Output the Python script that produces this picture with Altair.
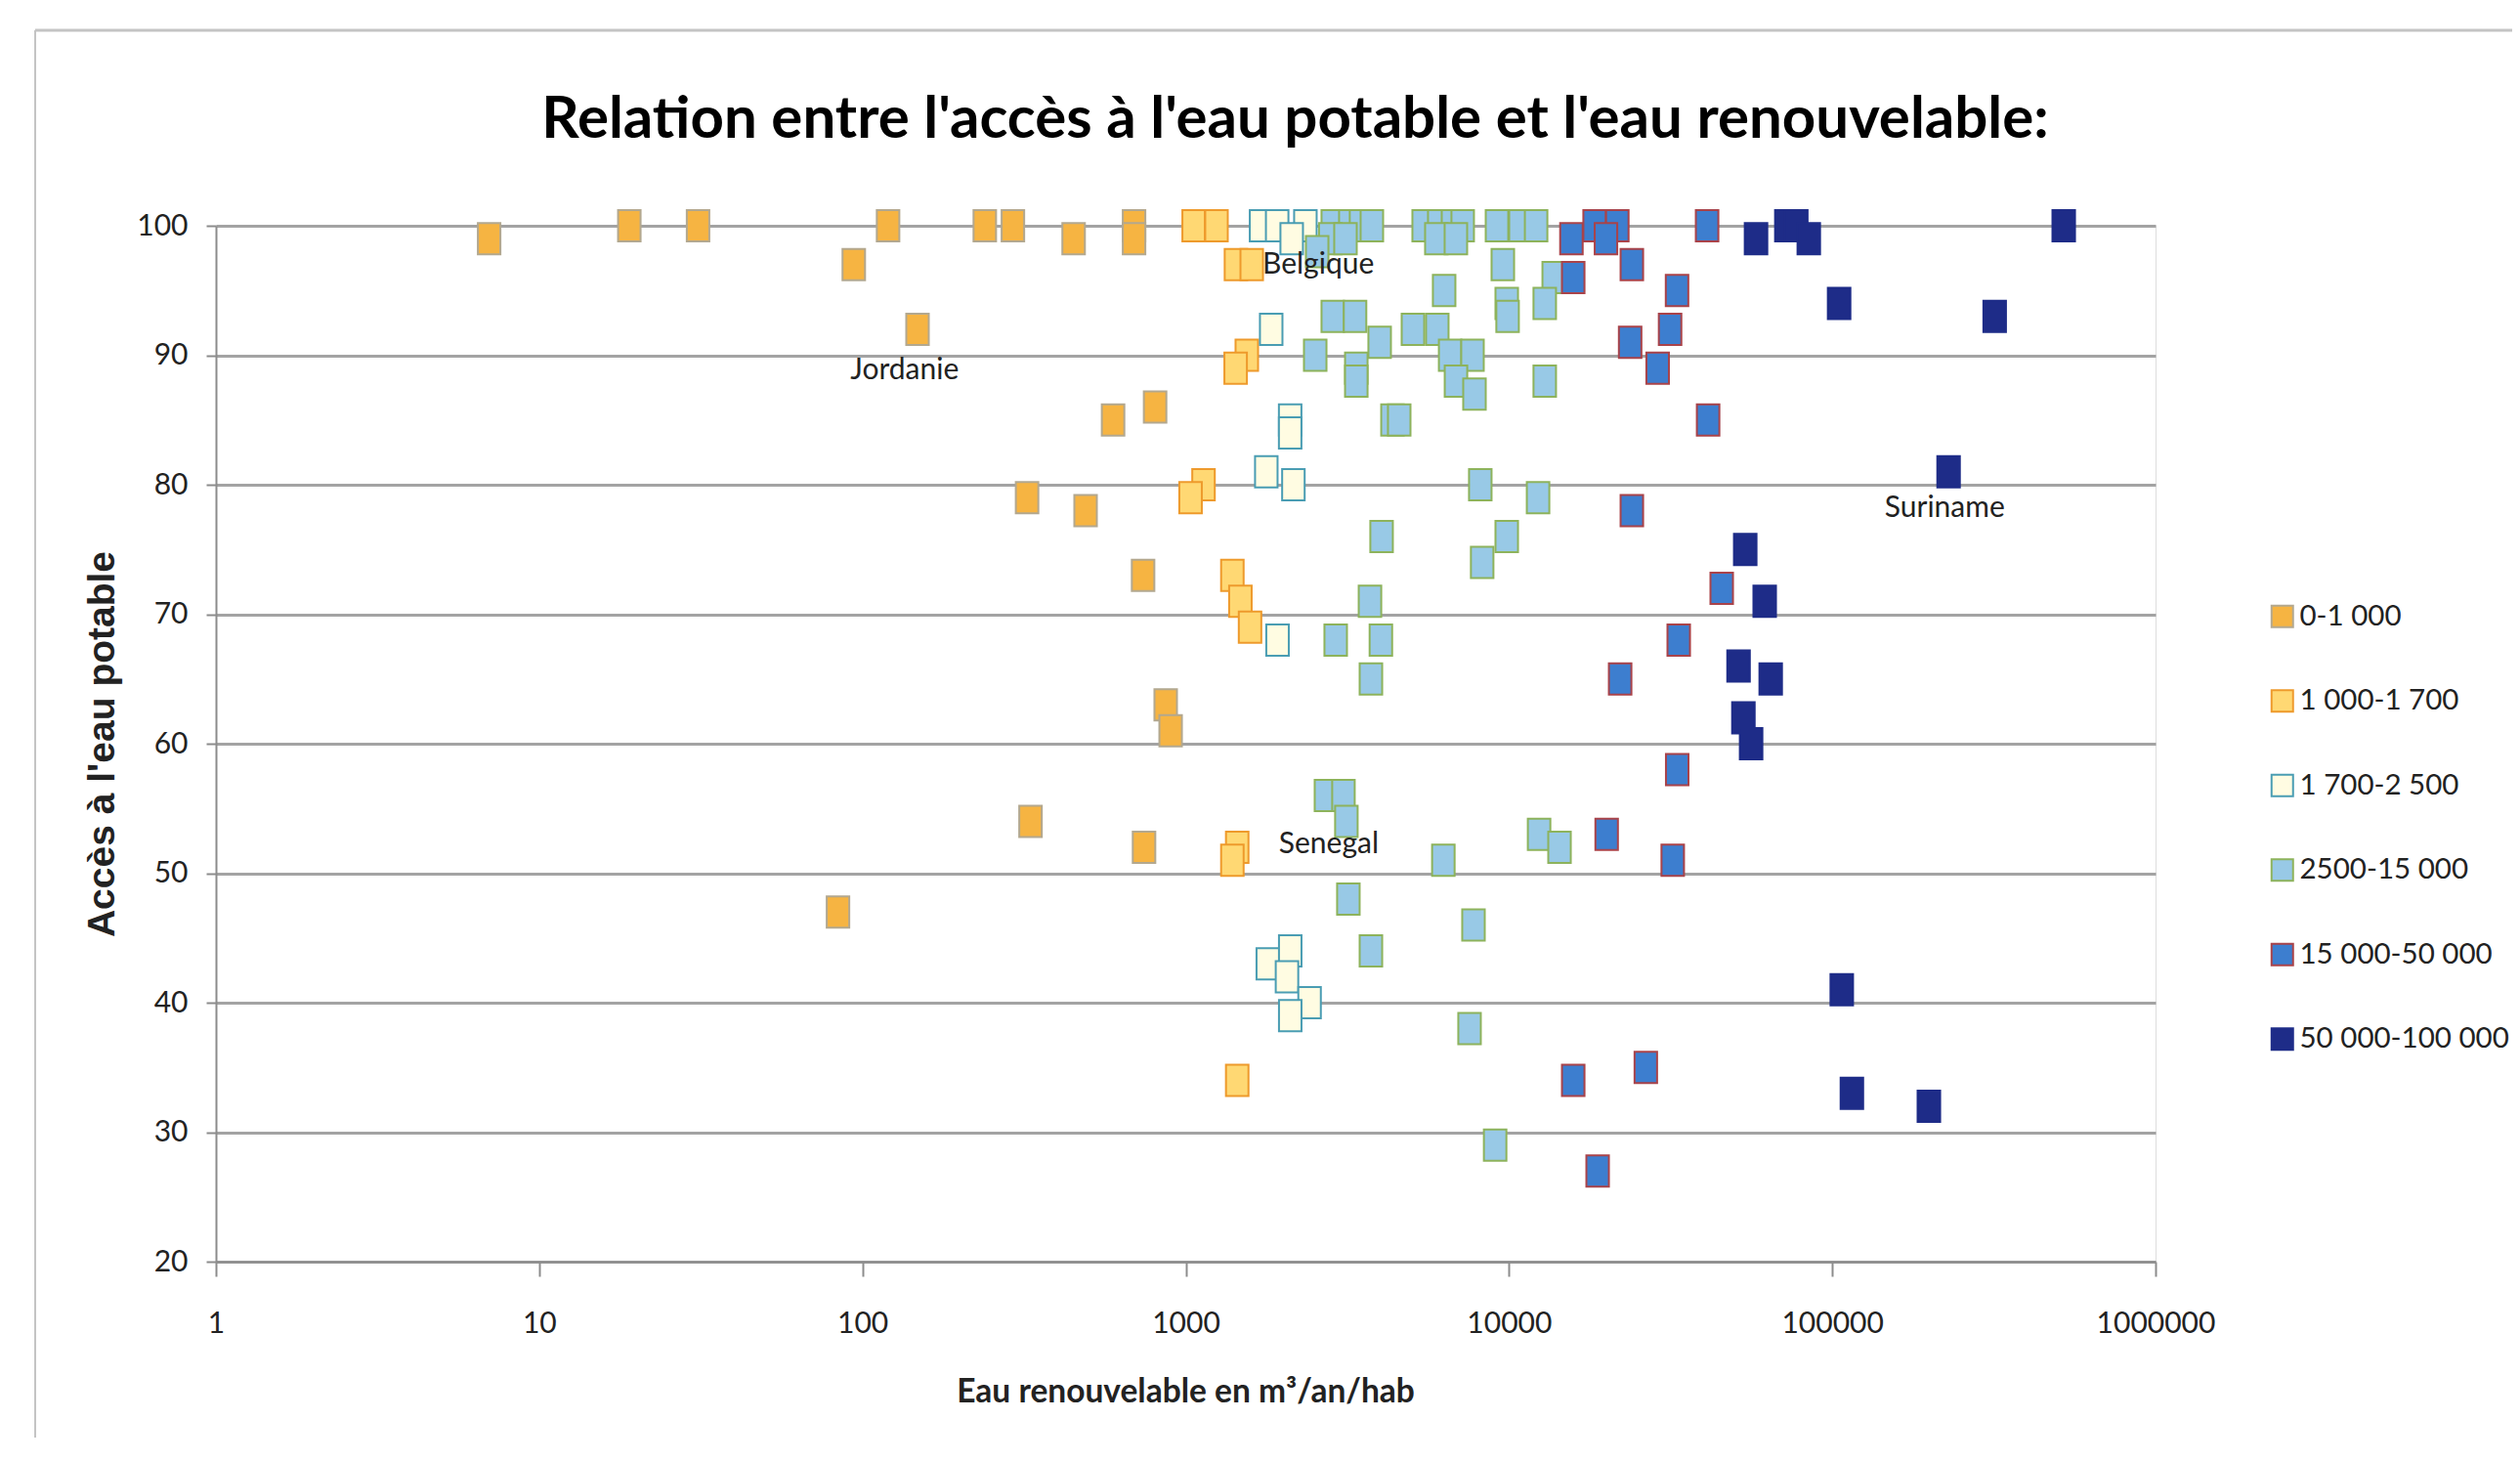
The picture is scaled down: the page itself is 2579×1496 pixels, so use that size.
import altair as alt
import pandas as pd

# ---------------- data ----------------
categories = ["0-1 000", "1 000-1 700", "1 700-2 500", "2500-15 000", "15 000-50 000", "50 000-100 000"]
fill_colors = ["#F6B442", "#FFD873", "#FFFCE2", "#98C9E6", "#3D7ECF", "#1E2C88"]
stroke_colors = ["#B3A88F", "#EE9A2C", "#4A9DB3", "#8DB35C", "#A9434A", "#1E2C88"]

c1_x = [7, 19, 31, 94, 120, 148, 239, 292, 450, 692, 692, 596, 804, 323, 490, 738, 867, 898, 331, 743, 84]
c1_y = [99, 100, 100, 97, 100, 92, 100, 100, 99, 100, 99, 85, 86, 79, 78, 73, 63, 61, 54, 52, 47]

c2_x = [1058, 1245, 1430, 1600, 1545, 1427, 1135, 1035, 1394, 1476, 1581, 1443, 1394, 1443]
c2_y = [100, 100, 97, 97, 90, 89, 80, 79, 73, 71, 69, 52, 51, 34]

c3_x = [1710, 1918, 2345, 2127, 1838, 2104, 2104, 1775, 2153, 1923, 1794, 2105, 2057, 2416, 2105]
c3_y = [100, 100, 100, 99, 92, 85, 84, 81, 80, 68, 43, 44, 42, 40, 39]

c4_x = [2850, 3230, 3485, 3765, 2800, 3120, 2550, 5445, 6085, 6710, 7190, 5960, 6850,
        9180, 10850, 12130, 9570, 13750,
        2850, 3340, 2515, 3980, 3370, 3370, 5045, 6000, 6575, 7710, 6855, 7820, 6300,
        12900, 9840, 9900, 12900,
        4360, 4575, 8150, 12300, 4035, 9840, 8260, 3715, 2910, 4015, 3740,
        2715, 3075, 3140, 6265, 12390, 14330, 3185, 7765, 3740, 7550, 9060]
c4_y = [100, 100, 100, 100, 99, 99, 98, 100, 100, 100, 100, 99, 99,
        100, 100, 100, 97, 96,
        93, 93, 90, 91, 89, 88, 92, 92, 90, 90, 88, 87, 95,
        88, 94, 93, 94,
        85, 85, 80, 79, 76, 76, 74, 71, 68, 68, 65,
        56, 56, 54, 51, 53, 52, 48, 46, 44, 38, 29]

c5_x = [15600, 18400, 21630, 19950, 23990, 15800, 33100, 31500, 23700, 28830, 41000, 41300,
        23990, 33500, 22070, 45500, 33140, 20050, 32100, 15800, 26500, 18800]
c5_y = [99, 100, 100, 99, 97, 96, 95, 92, 91, 89, 100, 85,
        78, 68, 65, 72, 58, 53, 51, 34, 35, 27]

c6_x = [53800, 61800, 51300, 64500, 53100, 56100, 58100, 72100, 77400, 84600, 105000,
        318000, 229000, 520000, 107000, 115000, 199000]
c6_y = [75, 71, 66, 65, 62, 60, 99, 100, 100, 99, 94, 93, 81, 100, 41, 33, 32]

label_names = ["Jordanie", "Belgique", "Senegal", "Suriname"]
label_x = [135, 2570, 2770, 222800]
label_y = [88.8, 97.0, 52.2, 78.2]

x_ticks = [1, 10, 100, 1000, 10000, 100000, 1000000]
y_ticks = [20, 30, 40, 50, 60, 70, 80, 90, 100]

title_text = "Relation entre l'accès à l'eau potable et l'eau renouvelable:"
x_title = "Eau renouvelable en m³/an/hab"
y_title = "Accès à l'eau potable"

# ---------------- tables ----------------
rows = []
for i, (cat, xs, ys) in enumerate(zip(categories,
                                       [c1_x, c2_x, c3_x, c4_x, c5_x, c6_x],
                                       [c1_y, c2_y, c3_y, c4_y, c5_y, c6_y])):
    for xv, yv in zip(xs, ys):
        rows.append({"cat": cat, "order": i, "x": xv, "y": yv})
df = pd.DataFrame(rows)
labels_df = pd.DataFrame({"name": label_names, "x": label_x, "y": label_y})

# ---------------- chart ----------------
W, H = 1985, 1060
grid_color = "#A3A3A3"
axis_color = "#8C8C8C"
text_color = "#222222"

xscale = alt.Scale(type="log", domain=[1, 1000000], nice=False)
yscale = alt.Scale(domain=[20, 100], nice=False, zero=False)

leg = alt.Legend(
    title=None, orient="none", legendX=2100, legendY=385,
    symbolType="square", symbolSize=484, symbolStrokeWidth=2,
    labelFont="Lato", labelFontSize=29.5, labelColor=text_color, labelLimit=500,
    rowPadding=55.5, labelOffset=3, padding=0,
)

rect_shape = "M-0.72,-1H0.72V1H-0.72Z"

points = alt.Chart(df).mark_point(
    shape=rect_shape, filled=True, size=1024, strokeWidth=2, opacity=1
).encode(
    x=alt.X("x:Q", scale=xscale, axis=alt.Axis(
        values=x_ticks, format="d", grid=False, title=x_title,
        labelFont="Lato", labelFontSize=30, labelColor=text_color,
        labelFlush=False, labelOverlap=False, labelPadding=33,
        tickSize=15, tickWidth=2, tickColor=axis_color,
        domainColor=axis_color, domainWidth=2,
        titleFont="Lato", titleFontSize=33.5, titleFontWeight="bold", titleColor=text_color,
        titleX=992, titleY=133, titleBaseline="middle", titleAlign="center",
    )),
    y=alt.Y("y:Q", scale=yscale, axis=alt.Axis(
        values=y_ticks, grid=True, gridColor=grid_color, gridWidth=3, title=y_title,
        labelFont="Lato", labelFontSize=30, labelColor=text_color, labelPadding=19,
        tickSize=10, tickWidth=2, tickColor=axis_color,
        domainColor=axis_color, domainWidth=2,
        titleFont="Liberation Sans", titleFontSize=39, titleFontWeight="bold", titleColor=text_color,
        titleX=-117, titleY=530, titleBaseline="middle", titleAlign="center", titleAngle=270,
    )),
    fill=alt.Fill("cat:N", scale=alt.Scale(domain=categories, range=fill_colors), legend=leg),
    stroke=alt.Stroke("cat:N", scale=alt.Scale(domain=categories, range=stroke_colors), legend=leg),
    order=alt.Order("order:Q"),
)

labels = alt.Chart(labels_df).mark_text(
    font="Lato", fontSize=30, color=text_color, align="center", baseline="middle"
).encode(
    x=alt.X("x:Q", scale=xscale),
    y=alt.Y("y:Q", scale=yscale),
    text="name:N",
)

frame_df = pd.DataFrame({"k": [0]})
frame_top = alt.Chart(frame_df).mark_rule(color="#C4C4C4", strokeWidth=3).encode(
    x=alt.value(-185), x2=alt.value(2358), y=alt.value(-200)
)
frame_left = alt.Chart(frame_df).mark_rule(color="#C4C4C4", strokeWidth=2).encode(
    x=alt.value(-185), y=alt.value(-200), y2=alt.value(1265)
)

chart = alt.layer(frame_top, frame_left, points, labels).properties(
    width=W, height=H,
    autosize=alt.AutoSizeParams(type="none"),
    padding={"left": 213, "top": 223, "right": 365, "bottom": 180},
    title=alt.TitleParams(
        title_text, font="Lato", fontSize=60, fontWeight="bold", color="#000000",
        anchor="middle", dx=112, offset=-171, baseline="alphabetic",
    ),
).configure_view(strokeWidth=0).configure(background="white")

chart.save("out.html", embed_options={"renderer": "svg", "actions": False})
